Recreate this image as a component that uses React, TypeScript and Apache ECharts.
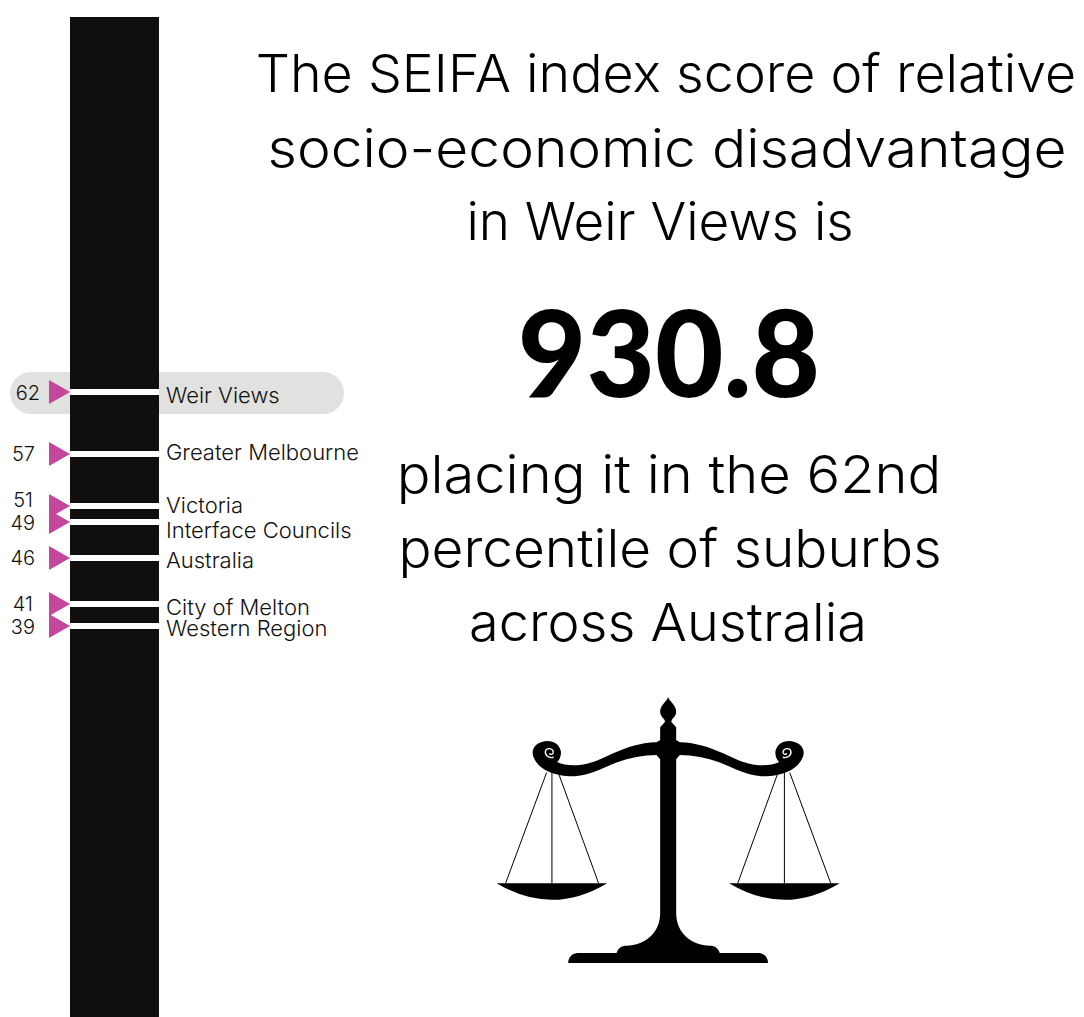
import React, { useEffect, useRef } from "react";
import * as echarts from "echarts";

const areaNames = ["Weir Views", "Greater Melbourne", "Victoria", "Interface Councils", "Australia", "City of Melton", "Western Region"];
const percentiles = [62.5, 56.3, 51.1, 49.5, 45.9, 41.3, 39.1];
const percentileLabels = ["62", "57", "51", "49", "46", "41", "39"];
const scaleMax = [100];
const headingLines = ["The SEIFA index score of relative", "socio-economic disadvantage", "in Weir Views is"];
const scoreText = "930.8";
const footerLines = ["placing it in the 62nd", "percentile of suburbs", "across Australia"];

const FONT = "Inter";
const INK = "#111110";
const nameNudges = [[0, 3], [0, -2], [0, -1], [0, 8], [0, 2], [0, 3], [0, 2]];
const valueNudges = [[-9, 1], [-14, 0], [-16, -6], [-14, 1], [-14, 0], [-16, 0], [-14, 1]];
const headingY = [73, 148, 221];
const headingX = [666, 667, 660];
const headingStretch = [1.034, 1.095, 1.02];
const footerY = [474, 548, 622];
const footerX = [669, 670, 668];
const footerStretch = [1.078, 1.057, 1.04];

const halfScale =
  "M566,52 C558,66 541,78 541,95 C541,106 549,113 553,118 L556,125 L541,142 L541,180 L530,187 " +
  "C480,188 440,203 400,220 C370,234 340,250 300,255 C275,258 248,255 232,246 C240,238 244,226 243,215 " +
  "C240,195 222,183 203,183 C178,183 158,198 158,218 C158,240 180,264 205,275 C232,287 262,290 285,289 " +
  "C330,286 365,266 410,248 C450,233 490,225 530,225 L541,238 L541,700 " +
  "C541,760 495,798 440,798 C424,798 414,806 410,820 L295,820 C278,820 265,832 265,850 L566,850 Z " +
  "M50,610 L382,610 Q216,710 50,610 Z";
const halfStrings = "M200,278 L77,610 M216,268 L216,610 M235,278 L356,610";
const swirl = "M221,232 C205,236 193,224 197,212 C201,203 218,204 220,216 C221,222 213,226 208,221";

export default function App() {
  const ref = useRef<HTMLDivElement>(null);
  useEffect(() => {
    echarts.graphic.registerShape("scaleHalf", echarts.graphic.extendPath(halfScale, {}));
    echarts.graphic.registerShape("scaleStrings", echarts.graphic.extendPath(halfStrings, {}));
    echarts.graphic.registerShape("scaleSwirl", echarts.graphic.extendPath(swirl, {}));
    const chart = echarts.init(ref.current!, null, { renderer: "svg" });

    const textEl = (text: string, x: number, y: number, stretch: number, size = 52, weight: number | string = 300, family = FONT) => ({
      type: "text", x, y, scaleX: stretch,
      style: { text, fontFamily: family, fontSize: size, fontWeight: weight, fill: "#000", align: "center", verticalAlign: "middle" },
    });
    const mirrored = (type: string, style: object) => [
      { type, x: 480, y: 680, scaleX: 1 / 3, scaleY: 1 / 3, style },
      { type, x: 856.33, y: 680, scaleX: -1 / 3, scaleY: 1 / 3, style },
    ];

    chart.setOption({
      animation: false,
      grid: { left: 70, width: 89, top: 17, height: 1000 },
      xAxis: { type: "category", data: ["Percentile"], show: false, boundaryGap: true },
      yAxis: { type: "value", min: 0, max: 100, show: false },
      graphic: [
        { type: "rect", z: 0, shape: { x: 10, y: 372, width: 334, height: 42, r: 21 }, style: { fill: "#e1e1df" } },
        ...headingLines.map((t, i) => textEl(t, headingX[i], headingY[i], headingStretch[i])),
        textEl(scoreText, 669, 350, 0.985, 120, 900, "Lato"),
        ...footerLines.map((t, i) => textEl(t, footerX[i], footerY[i], footerStretch[i])),
        ...mirrored("scaleHalf", { fill: "#000" }),
        ...mirrored("scaleStrings", { fill: "none", stroke: "#000", lineWidth: 3 }),
        ...mirrored("scaleSwirl", { fill: "none", stroke: "#fff", lineWidth: 4 }),
      ],
      series: [
        { type: "bar", data: scaleMax, barWidth: "100%", itemStyle: { color: "#100f0d" }, silent: true, z: 2 },
        {
          type: "scatter", z: 3, clip: false, silent: true,
          symbol: "rect", symbolSize: [89, 6], itemStyle: { color: "#fff", opacity: 1 },
          data: percentiles.map((v, i) => ({
            value: [0, v],
            label: {
              show: true, position: "right", distance: 7, formatter: areaNames[i], offset: nameNudges[i],
              fontFamily: FONT, fontSize: 22, lineHeight: 20, fontWeight: 300, color: INK,
            },
          })),
        },
        {
          type: "scatter", z: 4, clip: false, silent: true,
          symbol: "path://M0,0 L1,0.5 L0,1 Z", symbolSize: [21, 24], symbolOffset: [-55, 0],
          itemStyle: { color: "#c5479b", opacity: 1 },
          data: percentiles.map((v, i) => ({
            value: [0, v],
            label: {
              show: true, position: "left", distance: 0, formatter: percentileLabels[i], offset: valueNudges[i],
              fontFamily: FONT, fontSize: 20, lineHeight: 20, fontWeight: 300, color: INK,
            },
          })),
        },
      ],
    });
    return () => chart.dispose();
  }, []);
  return <div ref={ref} style={{ position: "absolute", left: 0, top: 0, width: 1084, height: 1017 }} />;
}
